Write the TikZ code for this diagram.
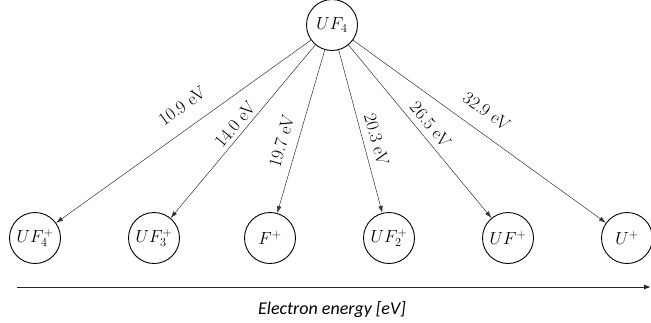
\RequirePackage{fix-cm}
\documentclass[tikz,border=0pt]{standalone}
\usepackage{fontspec}
\newfontfamily\axisfont{Carlito}
\usetikzlibrary{arrows.meta}
\begin{document}
\begin{tikzpicture}[x=1pt,y=-1pt,
  ion/.style={circle,draw=black,line width=0.9pt,minimum size=51pt,inner sep=0pt,
    font=\fontsize{17.5}{21}\selectfont},
  conn/.style={draw=black!80,line width=0.5pt,-{Latex[length=7pt,width=4.5pt]}},
  elabel/.style={sloped,inner sep=0pt,font=\fontsize{18}{21}\selectfont},
  axisline/.style={draw=black!85,line width=1pt,-{Latex[length=7pt,width=5pt]}}]
\useasboundingbox (0,0) rectangle (651,322);
\node[ion] (top) at (332,25) {$UF_4$};
\node[ion] (a) at (35,238) {$UF_4^+$};
\node[ion] (b) at (154,238) {$UF_3^+$};
\node[ion] (c) at (270,238) {$F^+$};
\node[ion] (d) at (389,238) {$UF_2^+$};
\node[ion] (e) at (508,238) {$UF^+$};
\node[ion] (f) at (627,238) {$U^+$};
\path[conn] (top) -- node[elabel,pos=0.457,above=15pt] (la) {10.9 eV} (a);
\path[conn] (top) -- node[elabel,pos=0.5,above=4pt] (lb) {14.0 eV} (b);
\path[conn] (top) -- node[elabel,pos=0.587,above=9.5pt] (lc) {19.7 eV} (c);
\path[conn] (top) -- node[elabel,pos=0.569,above=7pt] (ld) {20.3 eV} (d);
\path[conn] (top) -- node[elabel,pos=0.506,above=6pt] (le) {26.5 eV} (e);
\path[conn] (top) -- node[elabel,pos=0.48,above=14pt] (lf) {32.9 eV} (f);
\coordinate (axs) at (17,287);
\coordinate (axe) at (651,287);
\path[axisline] (axs) -- (axe);
\node[font=\axisfont\itshape\fontsize{18}{21}\selectfont] (axl) at (332,310) {Electron energy [eV]};
\end{tikzpicture}
\end{document}
